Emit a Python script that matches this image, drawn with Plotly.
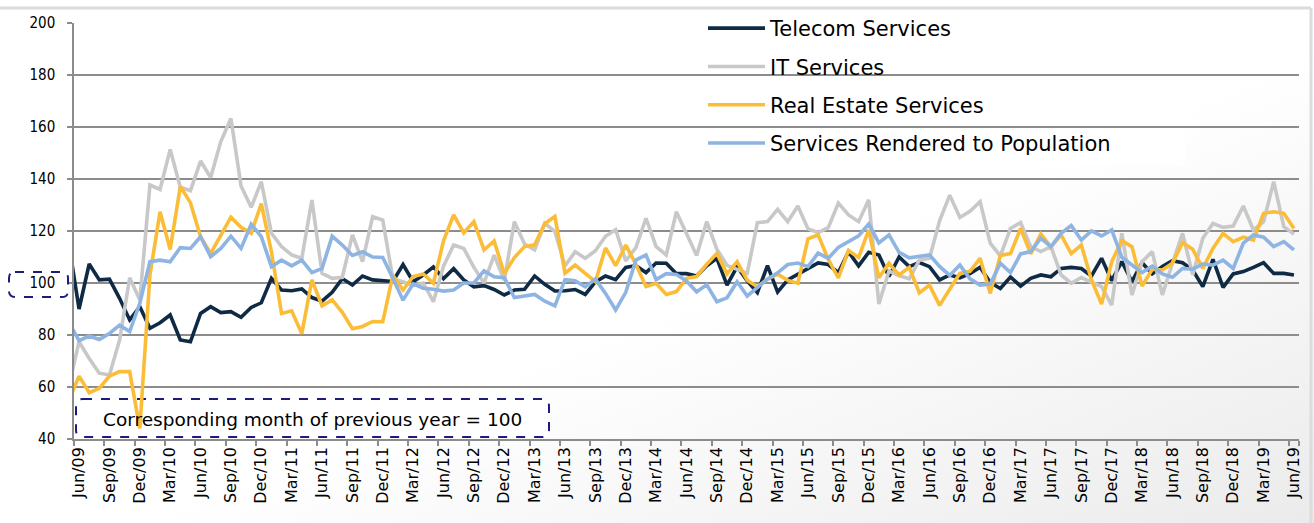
import base64
import plotly.graph_objects as go

MONTHS = ["Jan", "Feb", "Mar", "Apr", "May", "Jun", "Jul", "Aug", "Sep", "Oct", "Nov", "Dec"]
# Monthly categories May/09 ... Jun/19 (May/09 lies just left of the visible axis)
categories = [f"{MONTHS[(4 + k) % 12]}/{(9 + (4 + k) // 12):02d}" for k in range(122)]

tick_labels = ["Jun/09", "Sep/09", "Dec/09", "Mar/10", "Jun/10", "Sep/10", "Dec/10",
               "Mar/11", "Jun/11", "Sep/11", "Dec/11", "Mar/12", "Jun/12", "Sep/12",
               "Dec/12", "Mar/13", "Jun/13", "Sep/13", "Dec/13", "Mar/14", "Jun/14",
               "Sep/14", "Dec/14", "Mar/15", "Jun/15", "Sep/15", "Dec/15", "Mar/16",
               "Jun/16", "Sep/16", "Dec/16", "Mar/17", "Jun/17", "Sep/17", "Dec/17",
               "Mar/18", "Jun/18", "Sep/18", "Dec/18", "Mar/19", "Jun/19"]

telecom = [114.9,
    90.0, 107.3, 101.2, 101.5, 94.1, 85.8, 90.9, 82.6, 84.7, 87.7, 78.1, 77.4,
    88.3, 90.9, 88.6, 89.0, 86.8, 90.6, 92.4, 101.8, 97.3, 97.0, 97.7, 94.4,
    93.0, 96.4, 101.7, 99.2, 102.7, 101.2, 100.9, 100.6, 107.1, 100.5, 103.1, 106.2,
    101.7, 105.5, 101.2, 98.5, 99.0, 97.5, 95.4, 97.3, 97.6, 102.7, 99.5, 96.9,
    97.0, 97.5, 95.6, 100.4, 102.7, 101.3, 106.0, 106.7, 104.0, 107.7, 107.6, 103.6,
    103.6, 102.7, 106.6, 109.5, 99.2, 106.3, 100.8, 96.3, 106.7, 96.5, 101.2, 103.4,
    105.4, 107.7, 107.1, 104.0, 112.0, 106.6, 111.8, 110.8, 102.5, 110.0, 106.3, 107.9,
    106.3, 101.2, 103.1, 102.0, 103.6, 106.1, 100.2, 97.9, 102.3, 98.8, 101.8, 103.1,
    102.4, 105.6, 106.0, 105.6, 102.7, 109.5, 100.9, 108.2, 100.5, 107.8, 103.5, 106.3,
    108.6, 107.8, 105.0, 98.6, 109.1, 98.3, 103.5, 104.4, 106.0, 107.8, 103.7, 103.7,
    103.1]

it_services = [60.6,
    77.4, 71.0, 65.3, 64.6, 78.0, 102.0, 93.5, 137.7, 136.0, 151.4, 136.8, 135.5,
    146.9, 140.6, 154.4, 163.3, 137.3, 129.1, 139.0, 119.1, 114.0, 110.8, 109.5, 131.9,
    103.7, 101.8, 102.2, 118.5, 108.2, 125.5, 124.2, 101.5, 100.5, 99.0, 100.0, 92.8,
    106.5, 114.6, 113.3, 106.0, 100.0, 110.7, 101.0, 123.6, 115.0, 112.7, 123.0, 119.8,
    106.6, 112.0, 109.5, 112.4, 118.0, 120.5, 108.5, 113.6, 124.9, 114.0, 110.8, 127.4,
    119.0, 110.6, 123.6, 113.0, 106.8, 105.3, 103.7, 123.2, 123.6, 128.3, 123.6, 129.6,
    120.8, 119.4, 121.3, 130.7, 126.2, 123.6, 132.0, 91.9, 104.6, 102.9, 101.6, 108.8,
    109.5, 123.9, 133.8, 125.2, 127.6, 131.3, 115.3, 110.4, 121.0, 123.2, 114.0, 112.1,
    114.0, 103.1, 99.9, 102.1, 100.5, 98.6, 91.5, 119.1, 95.4, 108.2, 112.1, 95.4,
    107.6, 119.1, 103.1, 117.2, 122.9, 121.4, 121.9, 129.6, 120.4, 123.6, 139.0, 121.7,
    118.8]

real_estate = [54.8,
    64.2, 57.8, 59.5, 64.2, 65.9, 65.9, 44.1, 103.0, 127.4, 112.9, 137.1, 130.9,
    117.8, 111.4, 118.5, 125.3, 121.4, 119.1, 130.5, 112.0, 88.3, 89.3, 80.5, 101.2,
    91.2, 93.5, 88.7, 82.4, 83.3, 85.2, 85.1, 103.0, 97.3, 102.5, 103.5, 99.9,
    116.2, 126.2, 119.3, 123.6, 112.7, 116.2, 103.6, 109.8, 114.0, 114.7, 122.8, 125.6,
    103.8, 106.9, 103.7, 100.5, 113.5, 106.7, 114.6, 107.2, 98.6, 99.9, 95.6, 96.7,
    101.8, 102.5, 107.2, 111.4, 103.5, 108.2, 101.1, 98.5, 101.5, 103.4, 101.0, 99.9,
    117.0, 118.5, 109.1, 102.0, 112.5, 109.8, 120.4, 102.0, 107.6, 103.1, 106.0, 96.2,
    99.2, 91.4, 97.6, 103.7, 104.5, 109.5, 96.0, 110.6, 111.3, 121.0, 111.2, 118.8,
    113.9, 118.5, 111.3, 114.6, 101.2, 91.9, 108.2, 116.3, 114.0, 98.8, 105.3, 105.0,
    107.6, 115.5, 113.0, 105.6, 113.3, 119.1, 115.9, 117.6, 116.5, 126.8, 127.4, 126.8,
    121.0]

population = [84.8,
    77.8, 79.6, 78.3, 80.6, 83.8, 81.3, 92.2, 108.2, 108.8, 108.2, 113.6, 113.3,
    117.8, 110.1, 113.3, 118.0, 113.3, 122.6, 117.8, 106.3, 108.8, 106.6, 108.8, 104.0,
    105.6, 118.0, 114.6, 110.6, 112.0, 110.0, 109.8, 101.8, 93.4, 99.7, 98.0, 97.6,
    96.9, 97.3, 100.0, 100.0, 104.7, 102.4, 102.0, 94.4, 95.0, 95.6, 93.0, 91.2,
    101.3, 100.9, 98.5, 101.5, 96.0, 89.6, 96.4, 108.8, 110.8, 101.3, 103.6, 103.3,
    100.8, 96.6, 99.3, 92.8, 94.3, 100.5, 95.0, 98.3, 101.5, 103.9, 107.1, 107.7,
    106.3, 111.5, 109.5, 113.7, 115.9, 118.1, 122.7, 115.4, 118.5, 111.8, 109.7, 110.2,
    110.8, 106.4, 102.9, 106.9, 101.6, 99.2, 99.6, 107.6, 104.0, 111.2, 112.1, 117.2,
    114.0, 119.1, 122.1, 116.5, 120.0, 118.1, 120.4, 109.9, 106.9, 104.0, 106.5, 103.5,
    102.2, 105.6, 105.3, 107.3, 106.9, 108.8, 105.6, 115.3, 118.5, 117.6, 114.0, 115.9,
    112.7]

series = [
    ("Telecom Services", telecom, "#0f2a44"),
    ("IT Services", it_services, "#c8c8c8"),
    ("Real Estate Services", real_estate, "#fbbd37"),
    ("Services Rendered to Population", population, "#8db4e2"),
]

FONT = "DejaVu Sans"
NARROW = "Liberation Sans Narrow, Arial Narrow, DejaVu Sans Condensed, DejaVu Sans"
W, H = 1314, 523
ML, MR, MT, MB = 74, 15, 23, 84
PW, PH = W - ML - MR, H - MT - MB


def px_x(px):
    return (px - ML) / PW


def px_y(py):
    return (H - MB - py) / PH


def rounded_box(x0, y0, x1, y1, r):
    """Rounded rectangle path in paper coords from pixel corners."""
    rx, ry = r / PW, r / PH
    a, b, c, d = px_x(x0), px_x(x1), px_y(y0), px_y(y1)  # c top, d bottom
    return (f"M{a + rx},{c} L{b - rx},{c} Q{b},{c} {b},{c - ry} "
            f"L{b},{d + ry} Q{b},{d} {b - rx},{d} L{a + rx},{d} "
            f"Q{a},{d} {a},{d + ry} L{a},{c - ry} Q{a},{c} {a + rx},{c} Z")


fig = go.Figure()
for i, (name, vals, color) in enumerate(series):
    fig.add_trace(go.Scatter(
        x=categories, y=vals, name=name, mode="lines",
        line=dict(color=color, width=3.6), legendgroup=f"g{i}",
    ))

grid = "#8c8c8c"
fig.update_layout(
    width=W, height=H,
    margin=dict(l=ML, r=MR, t=MT, b=MB, pad=0, autoexpand=False),
    paper_bgcolor="white", plot_bgcolor="rgba(0,0,0,0)",
    font=dict(family=FONT, color="black"),
    showlegend=True,
    legend=dict(
        x=px_x(703), y=px_y(8), xanchor="left", yanchor="top",
        bgcolor="rgba(0,0,0,0)", borderwidth=0, font=dict(size=21, family=FONT),
        tracegroupgap=8, itemwidth=57,
    ),
    xaxis=dict(
        type="category", range=[0.5, 121.5],
        tickmode="array", tickvals=tick_labels, ticktext=tick_labels,
        tickson="boundaries", ticks="outside", ticklen=5, tickcolor=grid, tickwidth=1.5,
        tickangle=-90, tickfont=dict(size=16, family=FONT),
        showgrid=False, showline=True, linecolor=grid, linewidth=1.5,
        zeroline=False,
    ),
    yaxis=dict(
        range=[40, 200], tickmode="linear", tick0=40, dtick=20,
        showgrid=True, gridcolor=grid, gridwidth=1.5,
        showline=True, linecolor=grid, linewidth=1.5,
        ticks="outside", ticklen=5, tickcolor=grid, tickwidth=1.5,
        tickfont=dict(size=15, family=NARROW), ticklabelstandoff=9,
        zeroline=False,
    ),
)

# soft background gradient (white top-left to light grey bottom-right)
svg = (f'<svg xmlns="http://www.w3.org/2000/svg" width="{W}" height="{H}" '
       f'viewBox="0 0 {W} {H}" preserveAspectRatio="none">'
       '<defs><linearGradient id="g" x1="0" y1="0" x2="1" y2="1">'
       '<stop offset="0.55" stop-color="#ffffff"/>'
       '<stop offset="1" stop-color="#ebebeb"/></linearGradient></defs>'
       f'<rect width="{W}" height="{H}" fill="url(#g)"/></svg>')
fig.add_layout_image(
    source="data:image/svg+xml;base64," + base64.b64encode(svg.encode()).decode(),
    xref="paper", yref="paper", x=px_x(0), y=px_y(0),
    sizex=W / PW, sizey=H / PH, sizing="stretch",
    xanchor="left", yanchor="top", layer="below",
)

# white panel behind the legend, hiding gridlines there
fig.add_shape(type="rect", xref="paper", yref="paper",
              x0=px_x(687), x1=px_x(1185), y0=px_y(165), y1=px_y(12),
              fillcolor="white", line=dict(width=0), layer="between")

navy_dash = "#1c1c7a"
fig.add_shape(type="path", xref="paper", yref="paper",
              path=rounded_box(76, 399, 549, 437, 7),
              line=dict(color=navy_dash, width=2, dash="dash"),
              fillcolor="white", layer="below")
fig.add_annotation(xref="paper", yref="paper", x=px_x(312), y=px_y(419),
                   text="Corresponding month of previous year = 100",
                   showarrow=False, font=dict(size=18.5, family=FONT, color="black"),
                   xanchor="center", yanchor="middle")
fig.add_shape(type="path", xref="paper", yref="paper",
              path=rounded_box(9, 272, 68, 297, 6),
              line=dict(color=navy_dash, width=2, dash="dash"),
              layer="above")

# light frame (top and right edges)
fig.add_shape(type="line", xref="paper", yref="paper",
              x0=px_x(0), x1=px_x(1311), y0=px_y(8), y1=px_y(8),
              line=dict(color="#dcdcdc", width=3))
fig.add_shape(type="line", xref="paper", yref="paper",
              x0=px_x(1311), x1=px_x(1311), y0=px_y(8), y1=px_y(523),
              line=dict(color="#dcdcdc", width=3))

fig.write_html("out.html")
